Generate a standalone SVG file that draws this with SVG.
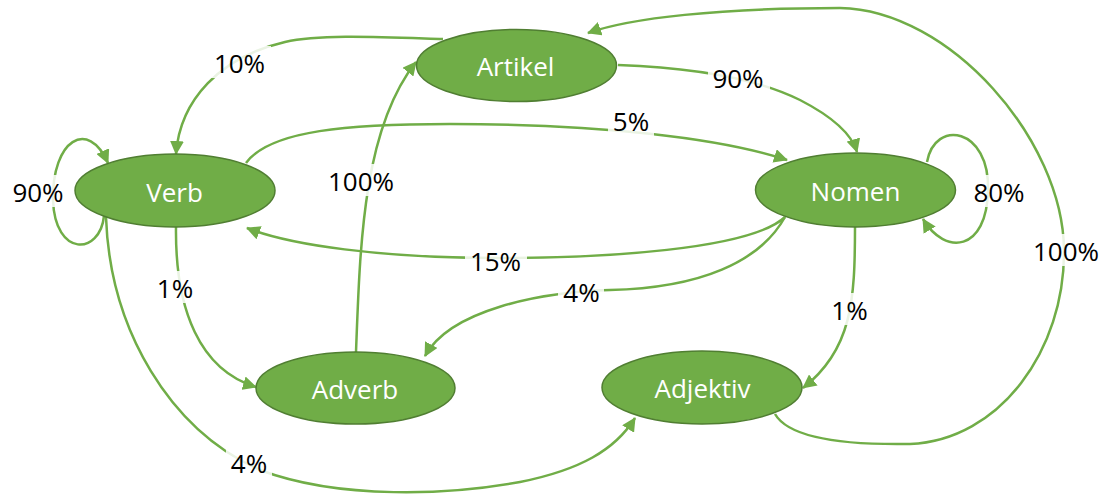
<svg xmlns="http://www.w3.org/2000/svg" width="1103" height="497" viewBox="0 0 1103 497">
  <style>
    .node ellipse { fill: #70AD47; stroke: #507E32; stroke-width: 1.5; }
    .node text { font-family: "Open Sans", "Liberation Sans", sans-serif; font-size: 26px; fill: #FFFFFF; text-anchor: middle; }
    .edge { fill: none; stroke: #70AD47; stroke-width: 2.5; marker-end: url(#arrow); }
    .lbl rect { fill: #FFFFFF; fill-opacity: 0.85; }
    .lbl text { font-family: "Open Sans", "Liberation Sans", sans-serif; font-size: 26px; fill: #000000; text-anchor: middle; }
  </style>
  <defs>
    <marker id="arrow" markerUnits="userSpaceOnUse" markerWidth="14" markerHeight="14" refX="13" refY="7" orient="auto">
      <path d="M0,0 L14,7 L0,14 z" fill="#70AD47"/>
    </marker>
  </defs>
  <rect width="1103" height="497" fill="#FFFFFF"/>

  <g id="connectors">
    <!-- Artikel -> Verb -->
    <path class="edge" d="M443,39 C 380,37 320,34 285,42 C 220,57 180,100 176,154"/>
    <!-- Verb self-loop -->
    <path class="edge" d="M104,216 C 100,255 55,258 53,200 C 52,140 88,118 108,163"/>
    <!-- Verb -> Nomen -->
    <path class="edge" d="M246,163 C 270,130 350,124 450,124 C 600,124 720,138 787,160"/>
    <!-- Nomen -> Verb -->
    <path class="edge" d="M785,217 C 750,250 600,258 500,258 C 380,258 290,245 247,228"/>
    <!-- Nomen -> Adverb -->
    <path class="edge" d="M785,217 C 760,262 700,288 610,290 C 540,292 450,310 425,356"/>
    <!-- Nomen -> Adjektiv -->
    <path class="edge" d="M855,227 C 855,300 852,350 803,388"/>
    <!-- Artikel -> Nomen -->
    <path class="edge" d="M618,65 C 700,68 760,80 800,100 C 835,118 852,135 857,152"/>
    <!-- Adverb -> Artikel -->
    <path class="edge" d="M356,352 C 360,250 362,130 416,62"/>
    <!-- Verb -> Adverb -->
    <path class="edge" d="M176,227 C 175,310 200,370 256,387"/>
    <!-- Verb -> Adjektiv -->
    <path class="edge" d="M106,217 C 110,330 170,430 260,470 C 340,500 450,495 520,482 C 580,470 615,450 635,418"/>
    <!-- Adjektiv -> Artikel -->
    <path class="edge" d="M775,414 C 790,440 850,445 910,444 C 1000,440 1065,350 1064,250 C 1063,140 950,10 840,8 C 720,8 630,18 588,33"/>
    <!-- Nomen self-loop -->
    <path class="edge" d="M927,162 C 935,118 990,128 988,190 C 987,252 945,256 923,219"/>
  </g>

  <g id="labels">
    <g class="lbl"><rect x="209" y="46" width="62" height="32"/><text x="239.5" y="73">10%</text></g>
    <g class="lbl"><rect x="8" y="175" width="62" height="32"/><text x="38" y="202">90%</text></g>
    <g class="lbl"><rect x="324" y="164" width="75" height="32"/><text x="361" y="191">100%</text></g>
    <g class="lbl"><rect x="708" y="61" width="62" height="32"/><text x="738" y="88">90%</text></g>
    <g class="lbl"><rect x="608" y="104" width="46" height="32"/><text x="631" y="131">5%</text></g>
    <g class="lbl"><rect x="968" y="175" width="62" height="32"/><text x="999" y="202">80%</text></g>
    <g class="lbl"><rect x="1028" y="234" width="75" height="32"/><text x="1066" y="261">100%</text></g>
    <g class="lbl"><rect x="465" y="244" width="62" height="32"/><text x="495.5" y="271">15%</text></g>
    <g class="lbl"><rect x="558" y="275" width="46" height="32"/><text x="581.5" y="302">4%</text></g>
    <g class="lbl"><rect x="152" y="271" width="46" height="32"/><text x="175" y="298">1%</text></g>
    <g class="lbl"><rect x="226" y="446" width="46" height="32"/><text x="249" y="473">4%</text></g>
    <g class="lbl"><rect x="827" y="293" width="46" height="32"/><text x="849.5" y="320">1%</text></g>
  </g>

  <g id="node-artikel" class="node">
    <ellipse cx="516.5" cy="65.5" rx="100" ry="36"/>
    <text x="515.5" y="76">Artikel</text>
  </g>
  <g id="node-verb" class="node">
    <ellipse cx="175" cy="190.5" rx="100" ry="36.5"/>
    <text x="174.5" y="202">Verb</text>
  </g>
  <g id="node-nomen" class="node">
    <ellipse cx="855.5" cy="190" rx="100" ry="37"/>
    <text x="855.5" y="201">Nomen</text>
  </g>
  <g id="node-adverb" class="node">
    <ellipse cx="355.5" cy="388" rx="99.5" ry="36"/>
    <text x="355" y="399">Adverb</text>
  </g>
  <g id="node-adjektiv" class="node">
    <ellipse cx="702" cy="387.5" rx="100" ry="36.5"/>
    <text x="702.5" y="398">Adjektiv</text>
  </g>
</svg>
